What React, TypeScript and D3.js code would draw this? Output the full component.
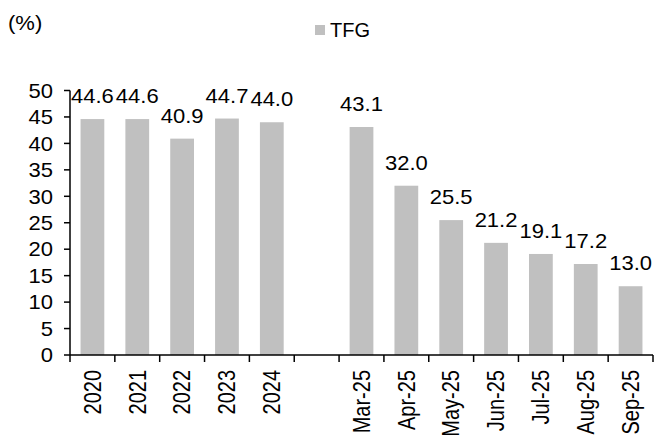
import React from "react";
import * as d3 from "d3";

const categories = ["2020", "2021", "2022", "2023", "2024", "", "Mar-25", "Apr-25", "May-25", "Jun-25", "Jul-25", "Aug-25", "Sep-25"];
const values: (number | null)[] = [44.6, 44.6, 40.9, 44.7, 44.0, null, 43.1, 32.0, 25.5, 21.2, 19.1, 17.2, 13.0];
const yTicks = [0, 5, 10, 15, 20, 25, 30, 35, 40, 45, 50];
const seriesName = "TFG";
const unitLabel = "(%)";

const W = 654;
const H = 435;
const left = 70;
const right = 653;
const bottom = 355;
const top = 90.5;
const FONT = "Liberation Sans, Arial, sans-serif";
const FS = 20;
const SX = 1.1;
const BAR = "#c0c0c0";

export default function App() {
  const keys = categories.map((c, i) => `k${i}`);
  const x = d3.scaleBand<string>().domain(keys).range([left, right]).paddingInner(0.47).paddingOuter(0.235);
  const y = d3.scaleLinear().domain([0, 50]).range([bottom, top]);
  const step = (right - left) / keys.length;
  const boundaries = d3.range(keys.length + 1).map((i) => left + i * step);

  return (
    <svg width={W} height={H} style={{ position: "absolute", left: 0, top: 0 }} fontFamily={FONT}>
      <rect width={W} height={H} fill="#fff" />
      <text transform={`translate(8,30) scale(${SX},1)`} fontSize={FS}>{unitLabel}</text>
      <rect x={315} y={25} width={10} height={10} fill={BAR} />
      <text x={330} y={36.5} fontSize={FS}>{seriesName}</text>

      {values.map((v, i) =>
        v == null ? null : (
          <g key={i}>
            <rect x={x(keys[i])!} y={y(v)} width={x.bandwidth()} height={bottom - y(v)} fill={BAR} />
            <text
              transform={`translate(${x(keys[i])! + x.bandwidth() / 2},${y(v) - 16}) scale(${SX},1)`}
              fontSize={FS}
              textAnchor="middle"
            >
              {v.toFixed(1)}
            </text>
          </g>
        )
      )}

      {/* y axis */}
      <line x1={left} x2={left} y1={top} y2={bottom} stroke="#000" strokeWidth={1.5} />
      {yTicks.map((t) => (
        <g key={t}>
          <line x1={left - 6} x2={left} y1={y(t)} y2={y(t)} stroke="#000" strokeWidth={1.5} />
          <text transform={`translate(53,${y(t)}) scale(${SX},1)`} dy="0.36em" fontSize={FS} textAnchor="end">{t}</text>
        </g>
      ))}

      {/* x axis */}
      <line x1={left} x2={right} y1={bottom} y2={bottom} stroke="#000" strokeWidth={1.5} />
      {boundaries.map((b, i) => (
        <line key={i} x1={b} x2={b} y1={bottom} y2={bottom + 7} stroke="#000" strokeWidth={1.5} />
      ))}
      {categories.map((c, i) =>
        c === "" ? null : (
          <text
            key={i}
            transform={`translate(${x(keys[i])! + x.bandwidth() / 2},370) scale(1.15,1) rotate(-90)`}
            dy="0.36em"
            fontSize={FS}
            textAnchor="end"
          >
            {c}
          </text>
        )
      )}
    </svg>
  );
}
